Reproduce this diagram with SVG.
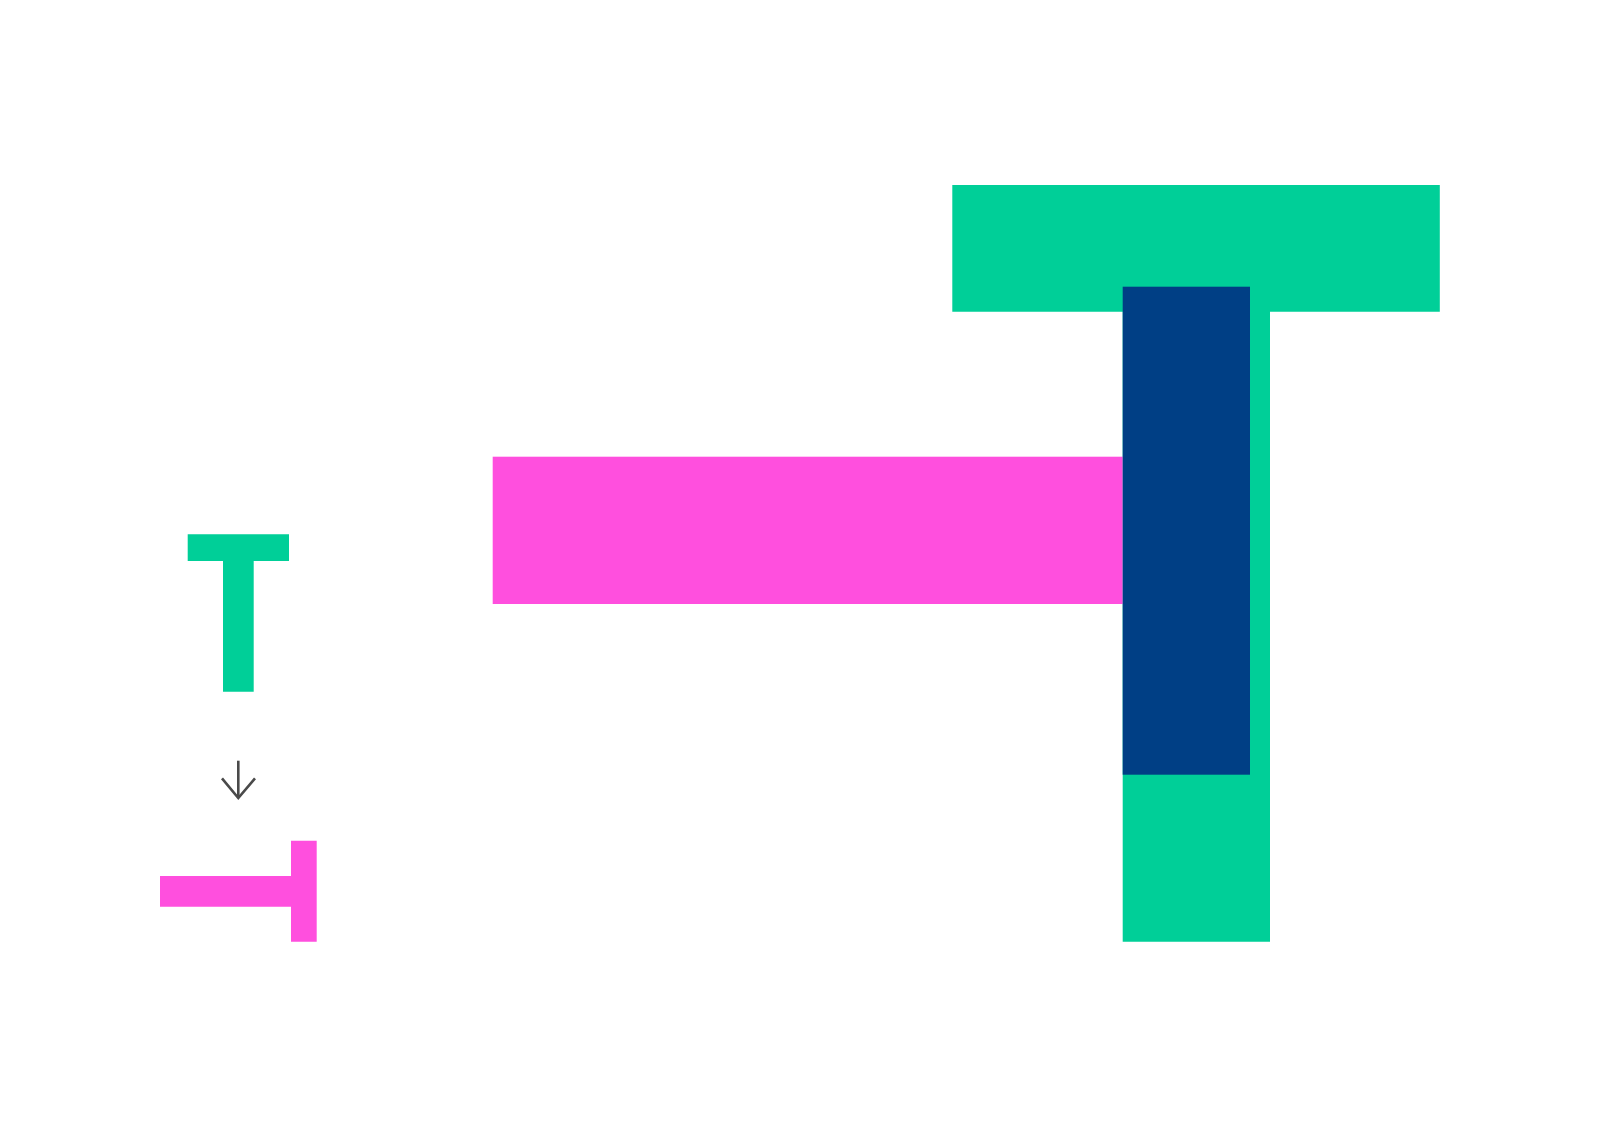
<svg xmlns="http://www.w3.org/2000/svg" width="1600" height="1127" viewBox="0 0 1600 1127">
<style>
.g{fill:#00CF98}
.p{fill:#FF4FDE}
.n{fill:#003F85}
.a{fill:none;stroke:#4a4a4a;stroke-width:2.6}
</style>
<rect width="1600" height="1127" fill="#ffffff"/>
<g id="small-t">
<path class="g" d="M187.7 534.3H289V561H253.7V691.7H223V561H187.7Z"/>
</g>
<g id="connectors">
<path class="a" d="M238.3 760.7V798"/>
<path class="a" d="M222 778.3L238.3 798L255 778.3"/>
</g>
<g id="small-t-rotated">
<path class="p" d="M160 876H291V840.7H316.7V941.7H291V906.7H160Z"/>
</g>
<g id="big-t">
<path class="g" d="M952.3 185H1439.8V311.7H1270V941.7H1122.7V311.7H952.3Z"/>
</g>
<g id="pink-bar">
<rect class="p" x="492.7" y="456.7" width="630" height="147.3"/>
</g>
<g id="navy-bar">
<rect class="n" x="1122.7" y="286.7" width="127.3" height="488"/>
</g>
</svg>
